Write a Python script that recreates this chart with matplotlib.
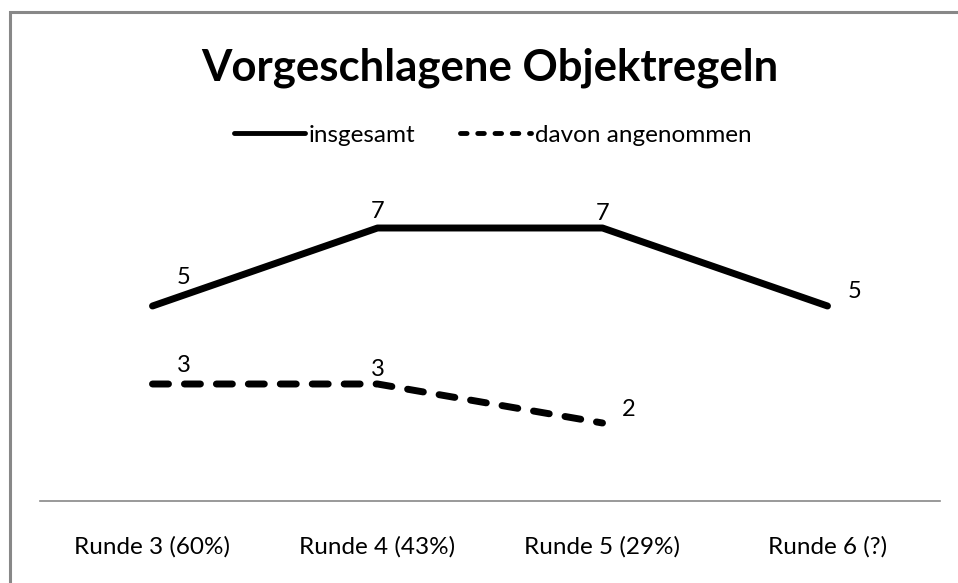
import matplotlib.pyplot as plt
from matplotlib.lines import Line2D
from matplotlib.patches import Rectangle

plt.rcParams['font.family'] = ['Lato', 'DejaVu Sans']

# Daten
runden = ['Runde 3 (60%)', 'Runde 4 (43%)', 'Runde 5 (29%)', 'Runde 6 (?)']
insgesamt = [5, 7, 7, 5]
angenommen = [3, 3, 2]

# Versatz der Datenbeschriftungen (Pixel)
off_ges = [(31, 29), (0, 17), (0, 15), (27, 15)]
off_ang = [(31, 19), (0, 15), (26, 14)]

fig = plt.figure(figsize=(9.58, 5.83), dpi=100)
ax = fig.add_axes([40 / 958, 1 - 501 / 583, 900 / 958, 312 / 583])

x1 = list(range(len(insgesamt)))
x2 = list(range(len(angenommen)))
ax.plot(x1, insgesamt, color='black', lw=5, solid_capstyle='round',
        solid_joinstyle='round')
ax.plot(x2, angenommen, color='black', lw=5, dashes=(2.3, 2.3),
        dash_capstyle='round')

for x, y, o in zip(x1, insgesamt, off_ges):
    ax.annotate(str(y), (x, y), xytext=o, textcoords='offset pixels',
                ha='center', va='center', fontsize=17)
for x, y, o in zip(x2, angenommen, off_ang):
    ax.annotate(str(y), (x, y), xytext=o, textcoords='offset pixels',
                ha='center', va='center', fontsize=17)

ax.set_xlim(-0.5, 3.5)
ax.set_ylim(0, 8)
ax.set_xticks(x1)
ax.set_xticklabels(runden, fontsize=17.5)
ax.tick_params(axis='x', length=0, pad=25)
ax.set_yticks([])
for s in ['top', 'left', 'right']:
    ax.spines[s].set_visible(False)
ax.spines['bottom'].set_color('#888888')
ax.spines['bottom'].set_linewidth(1.2)

fig.suptitle('Vorgeschlagene Objektregeln', fontsize=31.5, fontweight='bold',
             x=490 / 958, y=1 - 68 / 583, va='center')

handles = [Line2D([], [], color='black', lw=3.5, solid_capstyle='round'),
           Line2D([], [], color='black', lw=3.5, dashes=(1.35, 2.2),
                  dash_capstyle='round')]
fig.legend(handles, ['insgesamt', 'davon angenommen'], loc='center',
           bbox_to_anchor=(493 / 958, 1 - 135 / 583), ncol=2,
           frameon=False, fontsize=17.5, handlelength=2.9, handletextpad=0.17,
           columnspacing=1.85, borderpad=0)

# grauer Rahmen (nur oben und links sichtbar)
fig.patches.append(Rectangle((9.5 / 958, -0.1), 1.2, 1.1 - 12.5 / 583,
                             transform=fig.transFigure, fill=False,
                             edgecolor='#888888', lw=2.2))

fig.savefig('out.png', dpi=100)
